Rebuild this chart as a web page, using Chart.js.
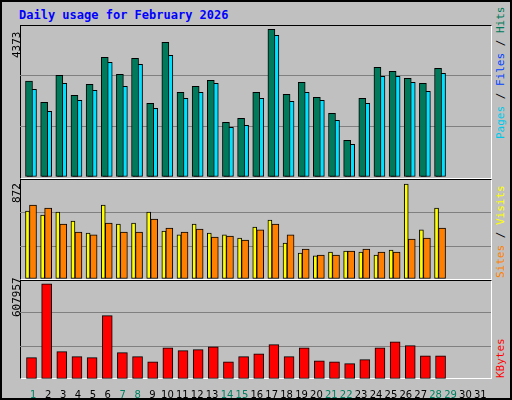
<!DOCTYPE html>
<html><head><meta charset="utf-8">
<script src="https://cdn.jsdelivr.net/npm/chart.js@4/dist/chart.umd.min.js"></script>
<style>
body{margin:0;background:#fff;}
#frame{position:absolute;left:0;top:0;width:508px;height:396px;background:#c0c0c0;border:2px solid #000;}
.c{position:absolute;}
.pb{position:absolute;border-top:1px solid #000;border-left:1px solid #000;border-right:1px solid #fff;border-bottom:1px solid #fff;box-sizing:border-box;}
.t{position:absolute;font-family:"DejaVu Sans Mono",monospace;font-size:11px;white-space:nowrap;transform-origin:0 0;transform:rotate(-90deg);}
#title{position:absolute;left:19px;top:8px;font:bold 12px "DejaVu Sans Mono",monospace;color:#0000ff;}
</style></head><body>
<div id="frame"></div>
<div id="title">Daily usage for February 2026</div>
<div class="pb" style="left:20px;top:25px;width:472px;height:154px"></div>
<div class="pb" style="left:20px;top:179px;width:472px;height:101px"></div>
<div class="pb" style="left:20px;top:280px;width:472px;height:99px"></div>
<canvas id="c1" class="c" style="left:20px;top:25px" width="471" height="152"></canvas>
<canvas id="c2" class="c" style="left:20px;top:180px" width="471" height="99"></canvas>
<canvas id="c3" class="c" style="left:20px;top:280px" width="471" height="119"></canvas>
<div class="t" style="left:10px;top:58px;color:#000">4373</div>
<div class="t" style="left:10px;top:203px;color:#000">872</div>
<div class="t" style="left:10px;top:317px;color:#000">607957</div>
<div class="t" style="left:494px;top:139px"><span style="color:#00c8e8">Pages</span> / <span style="color:#0040ff">Files</span> / <span style="color:#007a5a">Hits</span></div>
<div class="t" style="left:494px;top:278px"><span style="color:#ff8000">Sites</span> / <span style="color:#ffff00">Visits</span></div>
<div class="t" style="left:494px;top:378px;color:#ff0000">KBytes</div>
<script>
const days=[1,2,3,4,5,6,7,8,9,10,11,12,13,14,15,16,17,18,19,20,21,22,23,24,25,26,27,28];
const allDays=[1,2,3,4,5,6,7,8,9,10,11,12,13,14,15,16,17,18,19,20,21,22,23,24,25,26,27,28,29,30,31];
const weekendDays=[1,7,8,14,15,21,22,28,29];
const hits=[2762,2149,2926,2350,2667,3443,2954,3415,2120,3875,2436,2609,2782,1573,1688,2436,4249,2379,2724,2293,1832,1055,2264,3156,3041,2839,2696,3127];
const files=[2523,1890,2696,2206,2494,3300,2609,3242,1976,3501,2264,2436,2696,1430,1487,2264,4076,2178,2436,2206,1631,941,2120,2897,2897,2724,2465,2983];
const pages=[1919,1516,2178,1545,1688,2408,1602,1085,1200,1890,1861,2034,2408,1113,1228,1631,2322,1315,2436,2120,1487,797,2005,1976,2293,2063,1315,1458];
const visits=[599,564,590,511,405,652,484,493,590,423,388,484,405,388,361,458,520,317,229,203,238,247,238,211,255,837,432,625];
const sites=[652,625,484,414,388,493,414,414,528,449,414,440,370,379,343,432,484,388,264,211,211,247,264,238,238,352,361,449];
const kbytes=[131000,585000,168000,137000,131000,389000,162000,137000,106000,192000,174000,180000,198000,106000,137000,155000,211000,137000,192000,112000,106000,94000,119000,192000,229000,205000,143000,143000];
const maxHits=4373, maxVisits=872, maxKb=607957;
Chart.defaults.animation=false;
const S=471/15.15;
const pts=v=>days.map((d,i)=>({x:d,y:v[i]}));
function hx(m){return {type:'linear',display:false,offset:false,min:m,max:m+S};}
function yAx(max){return {min:0,max:max,grid:{color:c=>(c.tick.value<=0||c.tick.value>=max)?'rgba(0,0,0,0)':'#808080',drawTicks:false},border:{display:false},ticks:{display:false},afterBuildTicks:a=>{a.ticks=[0,max/3,2*max/3,max].map(v=>({value:v}));},afterFit:a=>{a.width=0;}};}
function ds(v,color,ax,w){return {data:pts(v),backgroundColor:color,borderColor:'#000',borderWidth:1,xAxisID:ax,barThickness:w,grouped:false,borderSkipped:false};}
function mk(id,datasets,scales){
  new Chart(document.getElementById(id),{type:'bar',data:{datasets},options:{responsive:false,devicePixelRatio:1,layout:{padding:0},plugins:{legend:{display:false},tooltip:{enabled:false}},scales}});
}
mk('c1',[ds(hits,'#007a5a','xh',7),ds(files,'#00e0ff','xf',7),ds(pages,'#0040ff','xp',2)],
  {xh:hx(1-9/15.15),xf:hx(1-13/15.15),xp:hx(1-8.2/15.15),y:yAx(maxHits)});
mk('c2',[ds(visits,'#ffff00','xv',4),ds(sites,'#ff8000','xs',7)],
  {xv:hx(1-7.5/15.15),xs:hx(1-13/15.15),y:yAx(maxVisits)});
const lm=1-13.3/14.9;
mk('c3',[ds(kbytes,'#ff0000','xk',10)],
  {xk:hx(1-11.5/15.15),y:yAx(maxKb),
   xl:{type:'linear',position:'bottom',offset:false,min:lm,max:lm+471/14.9,grid:{display:false},border:{display:false},
     afterBuildTicks:a=>{a.ticks=allDays.map(v=>({value:v}));},afterFit:a=>{a.height=20;},
     ticks:{autoSkip:false,maxRotation:0,padding:2,font:{family:'DejaVu Sans',size:10},
       color:c=>weekendDays.includes(c.tick.value)?'#008060':'#000',callback:v=>String(v)}}});
</script>
</body></html>
